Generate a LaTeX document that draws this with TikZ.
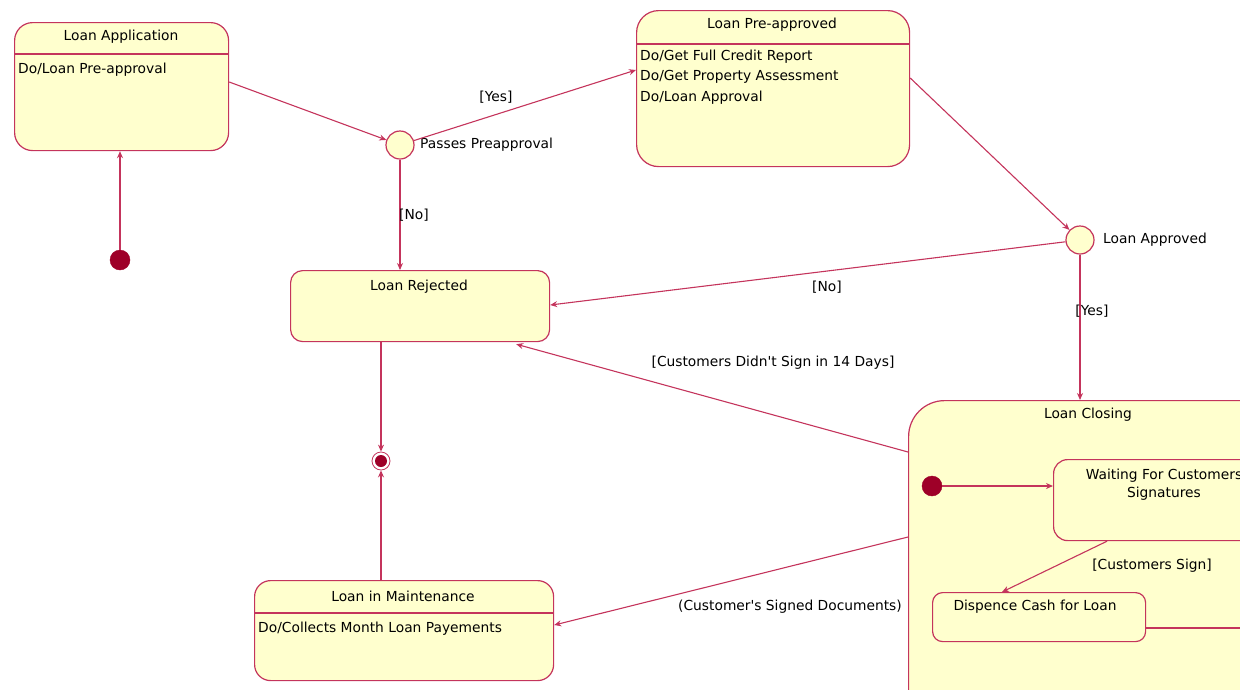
\documentclass[tikz,border=0pt]{standalone}
\usepackage{fontspec}
\usetikzlibrary{arrows.meta,calc}
\newfontfamily\uifont{DejaVu Sans}
\definecolor{edgec}{RGB}{196,52,92}
\definecolor{fillc}{RGB}{255,255,206}
\definecolor{dotc}{RGB}{158,0,40}
\tikzset{
  statebox/.style={draw=edgec, fill=fillc, line width=1.2pt, inner sep=0pt, anchor=north west},
  choice/.style={circle, draw=edgec, fill=fillc, minimum size=28pt, line width=1.2pt, inner sep=0pt},
  startdot/.style={circle, fill=dotc, draw=dotc, minimum size=20pt, inner sep=0pt},
  trans/.style={draw=edgec, line width=1.1pt, -{Stealth[length=7pt,width=6pt]}},
  sep/.style={draw=edgec, line width=1.6pt},
  txt/.style={font=\uifont\fontsize{13.8}{18}\selectfont, text=black, inner sep=0pt},
  ltxt/.style={txt, anchor=west},
}
\begin{document}
\begin{tikzpicture}[x=1pt,y=-1pt]
\useasboundingbox (0,0) rectangle (1240,689);
\clip (0,0) rectangle (1240,689);

% states
\node[statebox, rounded corners=18pt, minimum width=214pt, minimum height=128pt] (app) at (14,22) {};
\node[statebox, rounded corners=22pt, minimum width=273pt, minimum height=156pt] (pre) at (636,10) {};
\node[statebox, rounded corners=12pt, minimum width=259pt, minimum height=71pt] (rej) at (290,270) {};
\node[statebox, rounded corners=16pt, minimum width=299pt, minimum height=100pt] (mnt) at (254,580) {};
\node[statebox, rounded corners=36pt, minimum width=400pt, minimum height=330pt] (closing) at (908,400) {};
\node[statebox, rounded corners=14pt, minimum width=240pt, minimum height=81pt] (wait) at (1053,459) {};
\node[statebox, rounded corners=10pt, minimum width=213pt, minimum height=49pt] (disp) at (932,592) {};

% compartment separators
\draw[sep] ($(app.north west)+(0,32)$) -- ($(app.north east)+(0,32)$);
\draw[sep] ($(pre.north west)+(0,34)$) -- ($(pre.north east)+(0,34)$);
\draw[sep] ($(mnt.north west)+(0,33)$) -- ($(mnt.north east)+(0,33)$);

% pseudo states
\node[startdot] (init1) at (120,260) {};
\node[startdot] (init2) at (932,486) {};
\node[choice] (dec1) at (400,145) {};
\node[choice] (dec2) at (1080,240) {};
\node[circle, draw=edgec, fill=white, line width=0.8pt, minimum size=18pt, inner sep=0pt] (final) at (381,461) {};
\fill[dotc] (final) circle (6pt);

% state texts
\node[txt] (appT) at (121,37) {Loan Application};
\node[ltxt] (appD) at (18,70) {Do/Loan Pre-approval};
\node[txt] (preT) at (772,25) {Loan Pre-approved};
\node[ltxt] (preD1) at (640,57) {Do/Get Full Credit Report};
\node[ltxt] (preD2) at (640,77) {Do/Get Property Assessment};
\node[ltxt] (preD3) at (640,98) {Do/Loan Approval};
\node[txt] (rejT) at (419,287) {Loan Rejected};
\node[txt] (mntT) at (403,596) {Loan in Maintenance};
\node[ltxt] (mntD) at (258,629) {Do/Collects Month Loan Payements};
\node[txt] (closT) at (1088,415) {Loan Closing};
\node[txt, align=center] (waitT) at (1164,485) {Waiting For Customers\\Signatures};
\node[txt] (dispT) at (1035,607) {Dispence Cash for Loan};
\node[ltxt] (dec1T) at (420,145) {Passes Preapproval};
\node[ltxt] (dec2T) at (1103,240) {Loan Approved};

% transitions
\draw[trans] (init1) -- (init1 |- app.south);
\draw[trans] ($(app.north east)+(0,60)$) -- (dec1);
\draw[trans] (dec1) -- ($(pre.north west)+(0,60)$);
\draw[trans] (dec1) -- (dec1 |- rej.north);
\draw[trans] ($(pre.north east)+(0,68)$) -- (dec2);
\draw[trans] (dec2) -- ($(rej.north east)+(0,35)$);
\draw[trans] (dec2) -- (dec2 |- closing.north);
\draw[trans] ($(closing.north west)+(0,52)$) -- ($(rej.south east)+(-34,2)$);
\draw[trans] (final |- rej.south) -- (final);
\draw[trans] (final |- mnt.north) -- (final);
\draw[trans] ($(closing.north west)+(0,137)$) -- ($(mnt.north east)+(0,45)$);
\draw[trans] (init2) -- (init2 -| wait.west);
\draw[trans] ($(wait.south west)+(54,0)$) -- ($(disp.north west)+(70,0)$);
\coordinate (out) at (1250,628);
\draw[trans] ($(disp.north east)+(0,36)$) -- (out);

% guard labels
\node[txt] (g1) at (496,97) {[Yes]};
\node[txt] (g2) at (414,215) {[No]};
\node[txt] (g3) at (827,287) {[No]};
\node[txt] (g4) at (1092,311) {[Yes]};
\node[txt] (g5) at (773,363) {[Customers Didn't Sign in 14 Days]};
\node[txt] (g6) at (1152,566) {[Customers Sign]};
\node[txt] (g7) at (790,607) {(Customer's Signed Documents)};
\end{tikzpicture}
\end{document}
